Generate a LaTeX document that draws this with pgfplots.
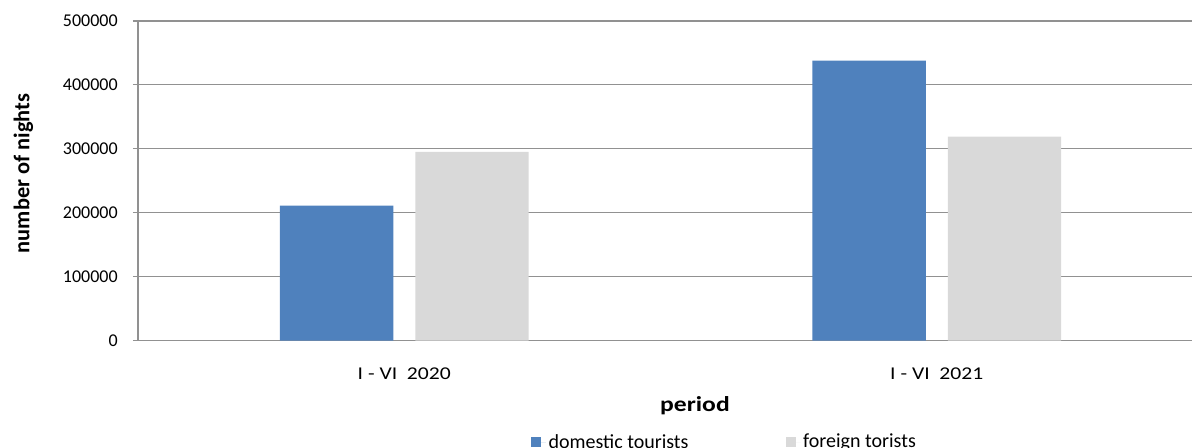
\documentclass[border=0pt]{standalone}
\usepackage{fontspec}
\setmainfont{Carlito}
\newfontfamily\widefont[FakeStretch=1.2]{Carlito}
\usepackage{pgfplots}
\pgfplotsset{compat=1.18}

\definecolor{domblue}{RGB}{79,129,189}
\definecolor{forgray}{RGB}{217,217,217}
\definecolor{gridgray}{RGB}{145,145,145}

\begin{document}
\begin{tikzpicture}
\begin{axis}[
  name=ax, at={(0,0)}, anchor=south west,
  scale only axis,
  width=798.75pt, height=239.625pt,
  ybar=16.5pt,
  bar width=85pt,
  xmin=-0.5, xmax=1.5,
  ymin=0, ymax=500000,
  ytick={0,100000,...,500000},
  scaled y ticks=false,
  yticklabel={\pgfmathprintnumber[fixed,precision=0,1000 sep={},assume math mode=true]{\tick}},
  xtick={0,1},
  xticklabels={{I - VI\ \ 2020},{I - VI\ \ 2021}},
  axis x line*=bottom,
  axis y line*=left,
  axis line style={gridgray, line width=0.8pt},
  ymajorgrids,
  grid style={gridgray, line width=0.8pt},
  tick align=outside,
  major tick length=3.75pt,
  ytick style={gridgray, line width=0.8pt},
  xtick style={draw=none},
  yticklabel style={font=\fontsize{13.5}{16}\selectfont, anchor=east, inner sep=0pt, xshift=-11.25pt},
  xticklabel style={font=\widefont\fontsize{13.5}{16}\selectfont, anchor=center, inner sep=0pt, yshift=-20.85pt},
  ylabel={number of nights},
  ylabel style={font=\bfseries\fontsize{16.8}{20}\selectfont, at={(axis description cs:-0.1075,0.5227)}, anchor=center},
  xlabel={period},
  xlabel style={font=\widefont\bfseries\fontsize{16}{19}\selectfont, at={(axis description cs:0.523,-0.205)}, anchor=center},
  legend columns=2,
  legend style={at={(0.369,-0.318)}, anchor=west, draw=none, inner sep=0pt,
    font=\fontsize{15}{18}\selectfont,
    /tikz/every even column/.append style={column sep=71pt}},
  legend image code/.code={\fill[#1,draw=none] (0pt,-3.75pt) rectangle (7.5pt,3.75pt);
    \path (0pt,0pt) -- (11pt,0pt);},
]
\addplot[fill=domblue, draw=none] coordinates {(0,211000) (1,438000)};
\addplot[fill=forgray, draw=none] coordinates {(0,295000) (1,319000)};
\legend{domestic tourists, foreign torists}
\end{axis}
\pgfresetboundingbox
\path[use as bounding box] (-103.5pt,-79.875pt) rectangle (790.5pt,255.375pt);
\end{tikzpicture}
\end{document}
